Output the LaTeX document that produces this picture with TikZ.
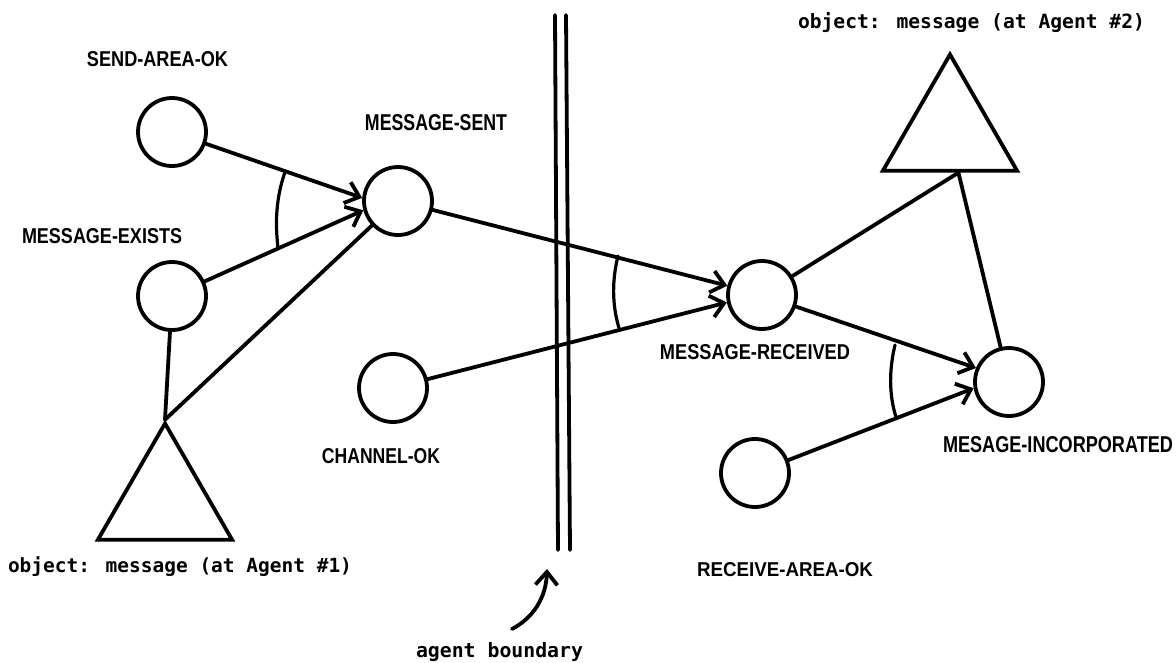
\documentclass[tikz,border=0pt]{standalone}
\usepackage{fontspec}
\setmainfont{Liberation Sans}
\newfontfamily\monofam{DejaVu Sans Mono}
\usetikzlibrary{arrows.meta,shapes.geometric,calc}
\newcommand{\caplab}[3]{\resizebox{#1pt}{#2pt}{\bfseries #3}}
\newcommand{\monolab}[2]{\resizebox{#1pt}{!}{\monofam\bfseries #2}}
\tikzset{
  state/.style={circle,draw,line width=3.8pt,minimum size=68pt,inner sep=0pt},
  objtri/.style={regular polygon,regular polygon sides=3,draw,line width=3.8pt,minimum size=155pt,inner sep=0pt,line join=miter},
  conn/.style={line width=3.8pt,line cap=round},
  arr/.style={conn,-{Straight Barb[length=13pt,width=22pt,line width=3.8pt]}},
  andarc/.style={line width=3.2pt,line cap=round},
  capl/.style={inner sep=0pt,outer sep=0pt},
  boundary/.style={line width=3.8pt,line cap=round}
}
\begin{document}
\begin{tikzpicture}[x=1pt,y=-1pt]
\useasboundingbox (0,0) rectangle (1176,662);
% states
\node[state] (SA) at (172,132) {};
\node[state] (ME) at (172,296) {};
\node[state] (MS) at (398,201) {};
\node[state] (CO) at (393,388) {};
\node[state] (MR) at (762,295) {};
\node[state] (MI) at (1009,382) {};
\node[state] (RA) at (755,473) {};
% objects
\node[objtri] (T1) at (165,501) {};
\node[objtri] (T2) at (950,132) {};
\coordinate (T2b) at ($(T2.corner 2)!0.56!(T2.corner 3)$);
% labels
\node[capl] (lSA) at (157.5,59.5) {\caplab{141}{15}{SEND-AREA-OK}};
\node[capl] (lME) at (102,236) {\caplab{160}{15}{MESSAGE-EXISTS}};
\node[capl] (lMS) at (436,123) {\caplab{142}{16}{MESSAGE-SENT}};
\node[capl] (lCO) at (381,456) {\caplab{118}{15}{CHANNEL-OK}};
\node[capl] (lMR) at (755,352) {\caplab{190}{15}{MESSAGE-RECEIVED}};
\node[capl] (lMI) at (1058,445) {\caplab{230}{16}{MESAGE-INCORPORATED}};
\node[capl] (lRA) at (785,570) {\caplab{176}{14}{RECEIVE-AREA-OK}};
\node[capl,anchor=base west] (lT1) at (8,572) {\monolab{344}{object: message (at Agent \#1)}};
\node[capl,anchor=base west] (lT2) at (798,28) {\monolab{347}{object: message (at Agent \#2)}};
\node[capl,anchor=base west] (lAB) at (416,657) {\monolab{167}{agent boundary}};
% agent boundary
\coordinate (b1t) at (555,15);
\coordinate (b1b) at (558,550);
\coordinate (b2t) at (566,15);
\coordinate (b2b) at (570,550);
\draw[boundary] (b1t) -- (b1b);
\draw[boundary] (b2t) -- (b2b);
\coordinate (abTail) at (512,629);
\coordinate (abTip) at (547,569);
\draw[arr] (abTail) .. controls (533,618) and (546,598) .. (abTip);
% connectors, agent 1
\draw[arr] (SA) -- (MS.175);
\draw[arr] (ME) -- (MS.195);
\draw[conn] (ME) -- (T1.corner 1);
\draw[conn] (T1.corner 1) -- (MS);
\draw[andarc] (285,172) .. controls (276,198) and (275,222) .. (278,248);
% connectors across boundary
\draw[arr] (MS) -- (MR.165);
\draw[arr] (CO) -- (MR.192);
\draw[andarc] (618,256) .. controls (612,280) and (612,305) .. (619,328);
% agent 2
\draw[conn] (MR) -- (T2b);
\draw[conn] (MI) -- (T2b);
\draw[arr] (MR) -- (MI.157);
\draw[arr] (RA) -- (MI.190);
\draw[andarc] (895,345) .. controls (889,370) and (889,395) .. (896,417);
\end{tikzpicture}
\end{document}
